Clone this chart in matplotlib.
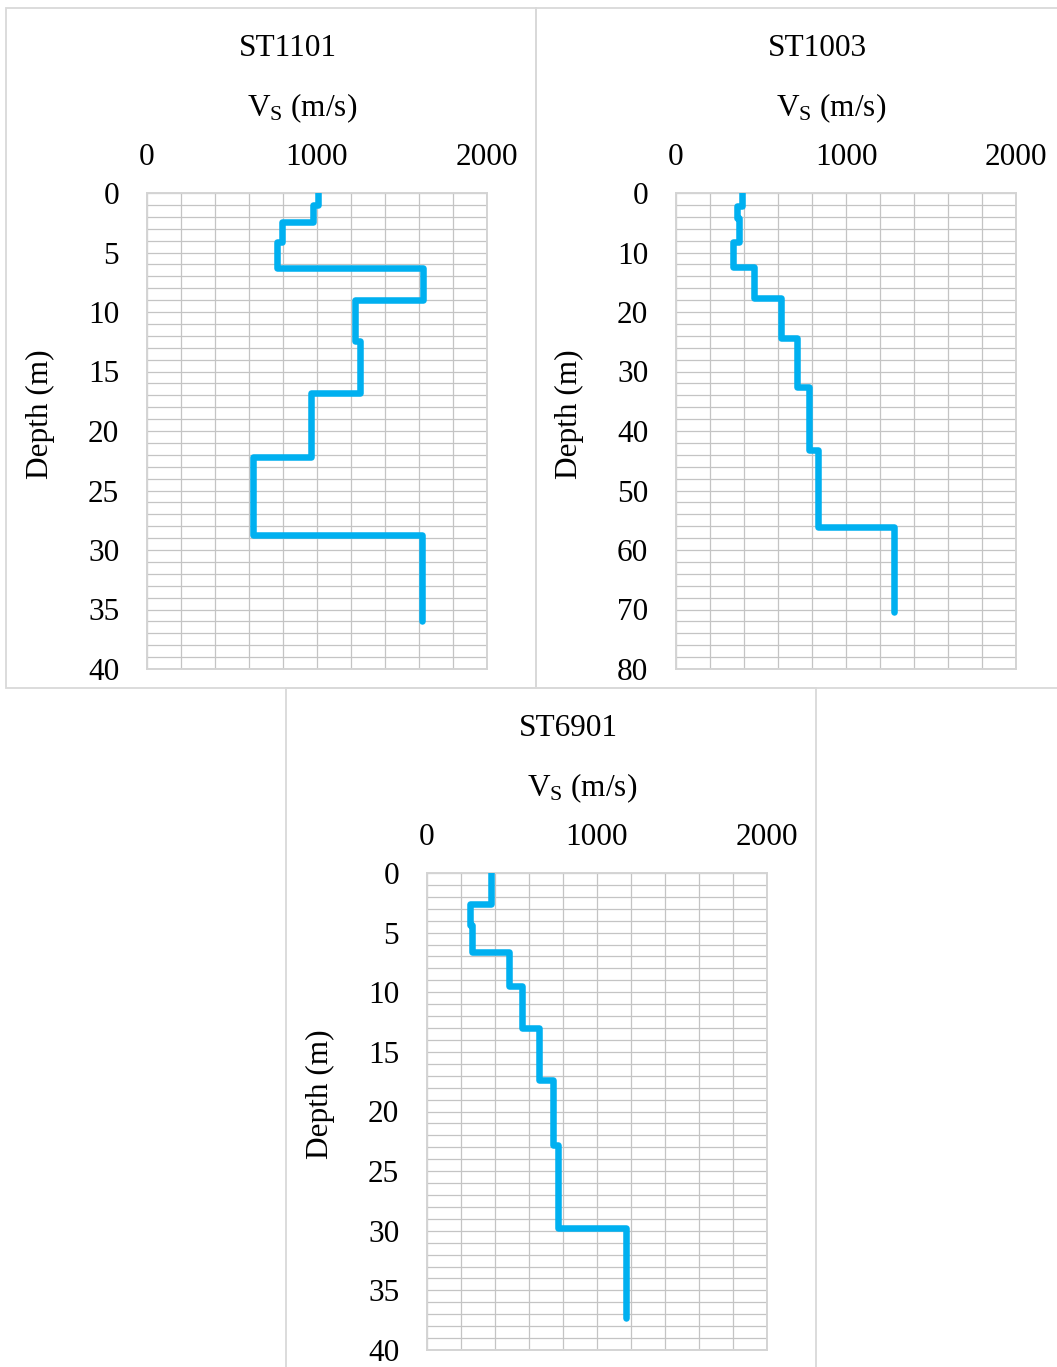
import numpy as np
import matplotlib
matplotlib.use("Agg")
import matplotlib.pyplot as plt
from matplotlib.patches import Rectangle
from matplotlib.ticker import MultipleLocator

plt.rcParams['font.family'] = ['Liberation Serif', 'DejaVu Serif']
plt.rcParams['mathtext.fontset'] = 'custom'
plt.rcParams['mathtext.rm'] = 'Liberation Serif'
plt.rcParams['mathtext.it'] = 'Liberation Serif:italic'

# layer boundaries (m) and shear-wave velocity of each layer (m/s)
st1101_depth = [0, 1.0, 2.4, 4.1, 6.3, 9.0, 12.4, 16.8, 22.2, 28.7, 36.0]
st1101_vs = [1005, 975, 795, 765, 1625, 1225, 1255, 965, 625, 1615]

st1003_depth = [0, 2.2, 4.2, 8.2, 12.4, 17.6, 24.4, 32.6, 43.2, 56.1, 70.4]
st1003_vs = [388, 359, 371, 335, 459, 618, 712, 782, 835, 1282]

st6901_depth = [0, 2.6, 4.4, 6.6, 9.5, 13.0, 17.4, 22.8, 29.8, 37.3]
st6901_vs = [375, 253, 263, 482, 557, 659, 739, 769, 1171]

stations = ['ST1101', 'ST1003', 'ST6901']
profiles = [(st1101_depth, st1101_vs), (st1003_depth, st1003_vs), (st6901_depth, st6901_vs)]
max_depth = [40, 80, 40]
depth_step = [5, 10, 5]
grid_step = [1, 2, 1]

W, H = 1057, 1367
fig = plt.figure(figsize=(W / 100, H / 100), dpi=100)

# plot areas in pixels: left, top, right, bottom
boxes = [(147, 193, 487, 669), (676, 193, 1016, 669), (427, 873, 767, 1350)]
# outer chart frames in pixels
frames = [(6, 8, 536, 688), (536, 8, 1064, 688), (286, 688, 816, 1380)]

for fx0, fy0, fx1, fy1 in frames:
    fig.add_artist(Rectangle((fx0 / W, 1 - fy1 / H), (fx1 - fx0) / W, (fy1 - fy0) / H,
                             transform=fig.transFigure, fill=False,
                             edgecolor='#d9d9d9', linewidth=1.3))

fs = 22.5
blue = '#00B0F0'

for i, (name, (depth, vs)) in enumerate(zip(stations, profiles)):
    x0, y0, x1, y1 = boxes[i]
    ax = fig.add_axes([x0 / W, 1 - y1 / H, (x1 - x0) / W, (y1 - y0) / H])

    # staircase profile: each layer is a vertical segment joined by horizontals
    xs = np.repeat(vs, 2)
    ys = np.column_stack([depth[:-1], depth[1:]]).ravel()
    ax.plot(xs, ys, color=blue, linewidth=4.7, solid_capstyle='round',
            solid_joinstyle='round', zorder=3)

    ax.set_xlim(0, 2000)
    ax.set_ylim(max_depth[i], 0)
    ax.xaxis.set_major_locator(MultipleLocator(1000))
    ax.xaxis.set_minor_locator(MultipleLocator(200))
    ax.yaxis.set_major_locator(MultipleLocator(depth_step[i]))
    ax.yaxis.set_minor_locator(MultipleLocator(grid_step[i]))
    ax.xaxis.tick_top()
    ax.tick_params(which='both', length=0, labelsize=fs)
    ax.tick_params(axis='x', pad=15)
    ax.tick_params(axis='y', pad=20)
    ax.grid(which='both', color='#c4c4c4', linewidth=0.9)
    ax.set_axisbelow(True)
    for sp in ax.spines.values():
        sp.set_color('#d4d4d4')
        sp.set_linewidth(1.4)

    dy = y0 - 193
    fig.text((x0 + 141) / W, 1 - (49 + dy) / H, name, fontsize=fs,
             ha='center', va='center')
    fig.text((x0 + 155) / W, 1 - (108 + dy) / H, r'V$_\mathrm{S}$ (m/s)',
             fontsize=fs, ha='center', va='center')
    fig.text((x0 - 107) / W, 1 - (y0 + 221) / H, 'Depth (m)', fontsize=fs,
             rotation=90, ha='center', va='center')

fig.savefig('out.png', dpi=100)
